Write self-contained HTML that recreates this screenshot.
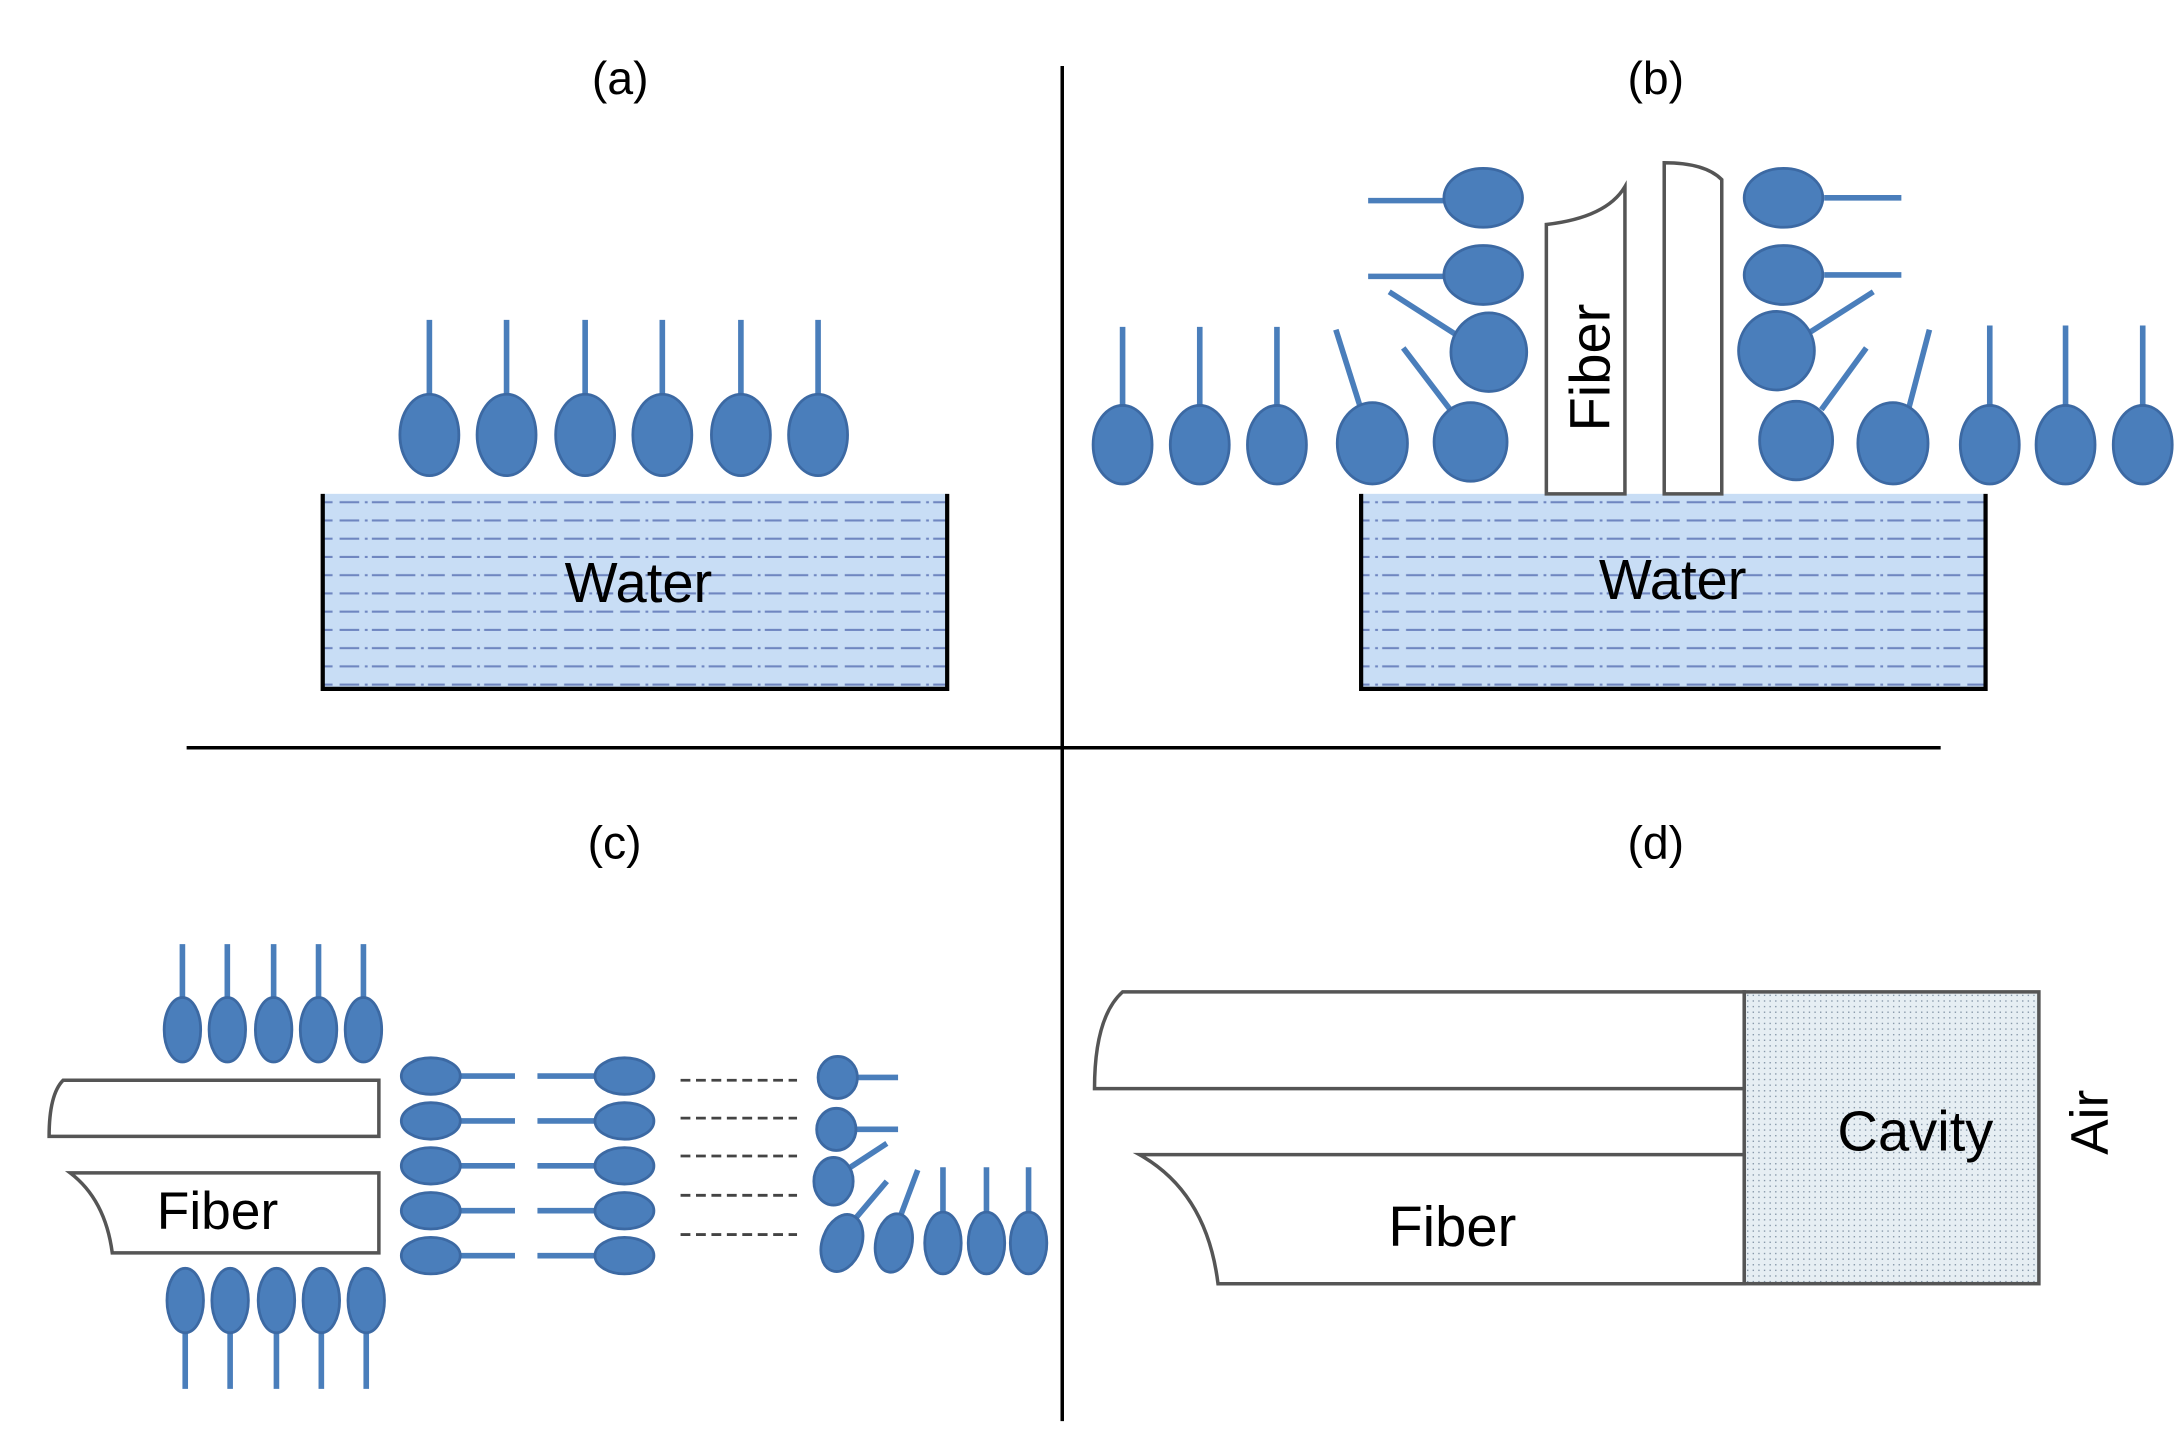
<!DOCTYPE html>
<html><head><meta charset="utf-8"><style>html,body{margin:0;padding:0;background:#fff}svg{display:block}</style></head>
<body>
<svg width="2175" height="1431" viewBox="0 0 1550 1020" preserveAspectRatio="none" xmlns="http://www.w3.org/2000/svg" font-family="Liberation Sans, sans-serif">
<defs>
<pattern id="wat" width="40" height="13" patternUnits="userSpaceOnUse">
<rect width="40" height="13" fill="#c8ddf5"/>
<line x1="2" y1="7" x2="16" y2="7" stroke="#6f86c0" stroke-width="1.5"/>
<line x1="20" y1="7" x2="22" y2="7" stroke="#6f86c0" stroke-width="1.5"/>
<line x1="25" y1="7" x2="37" y2="7" stroke="#6f86c0" stroke-width="1.5"/>
</pattern>
<pattern id="dot" width="4" height="4" patternUnits="userSpaceOnUse">
<rect width="4" height="4" fill="#e6eef3"/>
<rect x="1" y="1" width="1" height="1" fill="#8899aa"/>
</pattern>
</defs>
<g stroke="#000" stroke-width="2.5">
<line x1="757" y1="47" x2="757" y2="1013"/>
<line x1="133" y1="533" x2="1383" y2="533"/>
</g>
<g font-size="33" text-anchor="middle" fill="#000">
<text x="442" y="67">(a)</text><text x="1180" y="67">(b)</text>
<text x="438" y="612">(c)</text><text x="1180" y="612">(d)</text>
</g>
<rect x="230" y="352" width="445" height="139" fill="url(#wat)"/>
<path d="M230 352 V491 H675 V352" fill="none" stroke="#000" stroke-width="3"/>
<text x="455" y="429" font-size="40" text-anchor="middle">Water</text>
<rect x="970" y="352" width="445" height="139" fill="url(#wat)"/>
<path d="M970 352 V491 H1415 V352" fill="none" stroke="#000" stroke-width="3"/>
<text x="1192" y="427" font-size="40" text-anchor="middle">Water</text>
<g stroke="#4a7ebb" stroke-width="4">
<line x1="306" y1="228" x2="306" y2="285"/><line x1="361" y1="228" x2="361" y2="285"/><line x1="417" y1="228" x2="417" y2="285"/><line x1="472" y1="228" x2="472" y2="285"/><line x1="528" y1="228" x2="528" y2="285"/><line x1="583" y1="228" x2="583" y2="285"/>
<line x1="800" y1="233" x2="800" y2="292"/><line x1="855" y1="233" x2="855" y2="292"/><line x1="910" y1="233" x2="910" y2="292"/>
<line x1="952" y1="235" x2="970" y2="292"/><line x1="1000" y1="248" x2="1035" y2="294"/>
<line x1="975" y1="143" x2="1032" y2="143"/><line x1="975" y1="197" x2="1032" y2="197"/><line x1="990" y1="208" x2="1040" y2="240"/>
<line x1="1300" y1="141" x2="1355" y2="141"/><line x1="1300" y1="196" x2="1355" y2="196"/><line x1="1335" y1="208" x2="1288" y2="238"/>
<line x1="1330" y1="248" x2="1298" y2="292"/><line x1="1375" y1="235" x2="1360" y2="292"/>
<line x1="1418" y1="232" x2="1418" y2="292"/><line x1="1472" y1="232" x2="1472" y2="292"/><line x1="1527" y1="232" x2="1527" y2="292"/>
<line x1="130" y1="673" x2="130" y2="712"/><line x1="162" y1="673" x2="162" y2="712"/><line x1="195" y1="673" x2="195" y2="712"/><line x1="227" y1="673" x2="227" y2="712"/><line x1="259" y1="673" x2="259" y2="712"/>
<line x1="132" y1="950" x2="132" y2="990"/><line x1="164" y1="950" x2="164" y2="990"/><line x1="197" y1="950" x2="197" y2="990"/><line x1="229" y1="950" x2="229" y2="990"/><line x1="261" y1="950" x2="261" y2="990"/>
<line x1="325" y1="767" x2="367" y2="767"/><line x1="325" y1="799" x2="367" y2="799"/><line x1="325" y1="831" x2="367" y2="831"/><line x1="325" y1="863" x2="367" y2="863"/><line x1="325" y1="895" x2="367" y2="895"/>
<line x1="383" y1="767" x2="428" y2="767"/><line x1="383" y1="799" x2="428" y2="799"/><line x1="383" y1="831" x2="428" y2="831"/><line x1="383" y1="863" x2="428" y2="863"/><line x1="383" y1="895" x2="428" y2="895"/>
<line x1="608" y1="768" x2="640" y2="768"/><line x1="608" y1="805" x2="640" y2="805"/><line x1="606" y1="832" x2="632" y2="815"/>
<line x1="610" y1="868" x2="632" y2="842"/><line x1="642" y1="866" x2="654" y2="834"/>
<line x1="672" y1="832" x2="672" y2="866"/><line x1="703" y1="832" x2="703" y2="866"/><line x1="733" y1="832" x2="733" y2="866"/>
</g>
<g fill="#4a7ebb" stroke="#3c69a3" stroke-width="2">
<ellipse cx="306" cy="310" rx="21" ry="29"/><ellipse cx="361" cy="310" rx="21" ry="29"/><ellipse cx="417" cy="310" rx="21" ry="29"/><ellipse cx="472" cy="310" rx="21" ry="29"/><ellipse cx="528" cy="310" rx="21" ry="29"/><ellipse cx="583" cy="310" rx="21" ry="29"/>
<ellipse cx="800" cy="317" rx="21" ry="28"/><ellipse cx="855" cy="317" rx="21" ry="28"/><ellipse cx="910" cy="317" rx="21" ry="28"/>
<ellipse cx="978" cy="316" rx="25" ry="29"/><ellipse cx="1048" cy="315" rx="26" ry="28"/>
<ellipse cx="1057" cy="141" rx="28" ry="21"/><ellipse cx="1057" cy="196" rx="28" ry="21"/><ellipse cx="1061" cy="251" rx="27" ry="28"/>
<ellipse cx="1271" cy="141" rx="28" ry="21"/><ellipse cx="1271" cy="196" rx="28" ry="21"/><ellipse cx="1266" cy="250" rx="27" ry="28"/>
<ellipse cx="1280" cy="314" rx="26" ry="28"/><ellipse cx="1349" cy="316" rx="25" ry="29"/>
<ellipse cx="1418" cy="317" rx="21" ry="28"/><ellipse cx="1472" cy="317" rx="21" ry="28"/><ellipse cx="1527" cy="317" rx="21" ry="28"/>
<ellipse cx="130" cy="734" rx="13" ry="23"/><ellipse cx="162" cy="734" rx="13" ry="23"/><ellipse cx="195" cy="734" rx="13" ry="23"/><ellipse cx="227" cy="734" rx="13" ry="23"/><ellipse cx="259" cy="734" rx="13" ry="23"/>
<ellipse cx="132" cy="927" rx="13" ry="23"/><ellipse cx="164" cy="927" rx="13" ry="23"/><ellipse cx="197" cy="927" rx="13" ry="23"/><ellipse cx="229" cy="927" rx="13" ry="23"/><ellipse cx="261" cy="927" rx="13" ry="23"/>
<ellipse cx="307" cy="767" rx="21" ry="13"/><ellipse cx="307" cy="799" rx="21" ry="13"/><ellipse cx="307" cy="831" rx="21" ry="13"/><ellipse cx="307" cy="863" rx="21" ry="13"/><ellipse cx="307" cy="895" rx="21" ry="13"/>
<ellipse cx="445" cy="767" rx="21" ry="13"/><ellipse cx="445" cy="799" rx="21" ry="13"/><ellipse cx="445" cy="831" rx="21" ry="13"/><ellipse cx="445" cy="863" rx="21" ry="13"/><ellipse cx="445" cy="895" rx="21" ry="13"/>
<ellipse cx="597" cy="768" rx="14" ry="15"/><ellipse cx="596" cy="805" rx="14" ry="15"/><ellipse cx="594" cy="842" rx="14" ry="17"/>
<ellipse cx="600" cy="886" rx="14" ry="21" transform="rotate(20 600 886)"/><ellipse cx="637" cy="886" rx="13" ry="21" transform="rotate(10 637 886)"/>
<ellipse cx="672" cy="886" rx="13" ry="22"/><ellipse cx="703" cy="886" rx="13" ry="22"/><ellipse cx="733" cy="886" rx="13" ry="22"/>
</g>
<g fill="#fff" stroke="#555" stroke-width="2.5">
<path d="M1102 352 V160 Q1145 155 1158 133 V352 Z"/>
<path d="M1186 352 V116 Q1215 116 1227 128 V352 Z"/>
</g>
<text transform="translate(1147 262) rotate(-90)" font-size="40" text-anchor="middle">Fiber</text>
<g fill="#fff" stroke="#555" stroke-width="2.5">
<path d="M45 770 H270 V810 H35 Q35 780 45 770 Z"/>
<path d="M50 836 H270 V893 H80 Q75 855 50 836 Z"/>
</g>
<text x="155" y="876" font-size="38" text-anchor="middle">Fiber</text>
<g stroke="#444" stroke-width="2" stroke-dasharray="7 4">
<line x1="485" y1="770" x2="568" y2="770"/><line x1="485" y1="797" x2="568" y2="797"/><line x1="485" y1="824" x2="568" y2="824"/><line x1="485" y1="852" x2="568" y2="852"/><line x1="485" y1="880" x2="568" y2="880"/>
</g>
<rect x="1243" y="707" width="210" height="208" fill="url(#dot)" stroke="#555" stroke-width="2.5"/>
<g fill="#fff" stroke="#555" stroke-width="2.5">
<path d="M800 707 H1243 V776 H780 Q780 725 800 707 Z"/>
<path d="M812 823 H1243 V915 H868 Q860 850 812 823 Z"/>
</g>
<text x="1035" y="888" font-size="40" text-anchor="middle">Fiber</text>
<text x="1365" y="820" font-size="40" text-anchor="middle">Cavity</text>
<text transform="translate(1502 800) rotate(-90)" font-size="38" text-anchor="middle">Air</text>
</svg>
</body></html>
